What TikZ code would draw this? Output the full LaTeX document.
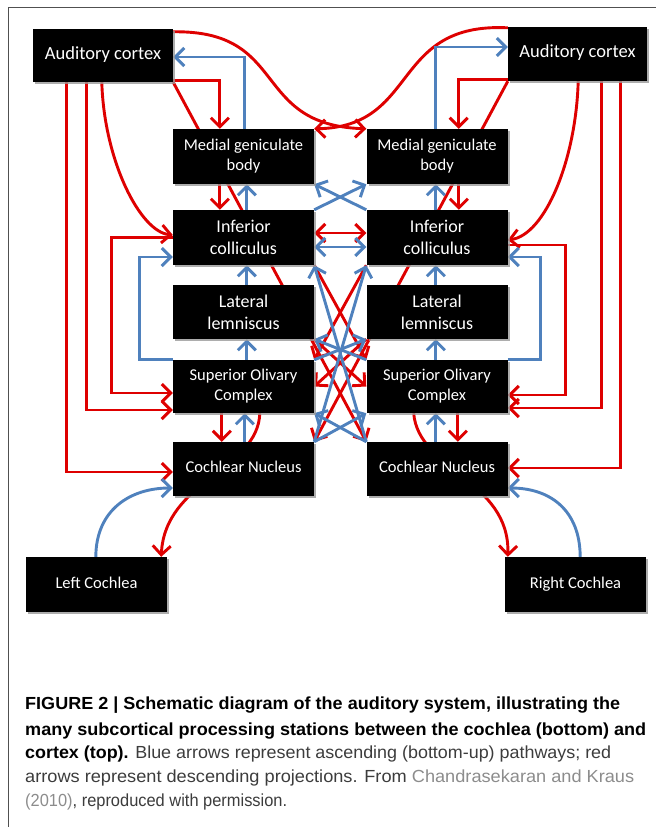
\documentclass[tikz,border=0pt]{standalone}
\usepackage{fontspec}
\setmainfont{Carlito}
\newfontfamily\capfont{Liberation Sans}
\usetikzlibrary{arrows.meta,shadows,backgrounds,calc}
\definecolor{redA}{RGB}{222,0,0}
\definecolor{blueA}{RGB}{79,129,189}
\definecolor{capgray}{RGB}{60,60,60}
\definecolor{linkgray}{RGB}{140,140,140}
\definecolor{framegray}{RGB}{80,80,80}
\begin{document}
\begin{tikzpicture}[x=1pt,y=-1pt,
  box/.style={fill=black, text=white, inner sep=0pt, align=center,
    drop shadow={shadow xshift=2pt, shadow yshift=-2pt, fill=black!40, opacity=0.8}},
  one/.style={text height=0.95em, text depth=0.25em},
  bigtxt/.style={font=\fontsize{18.5}{21}\selectfont},
  midtxt/.style={font=\fontsize{18}{22}\selectfont},
  smalltxt/.style={font=\fontsize{16.5}{20}\selectfont},
  colL/.style={minimum width=141pt},
  colR/.style={minimum width=141pt},
  rl/.style={draw=redA, line width=2.9pt},
  bl/.style={draw=blueA, line width=2.9pt},
  tip/.style={-{Straight Barb[length=9pt,width=18pt]}},
  dtip/.style={{Straight Barb[length=9pt,width=18pt]}-{Straight Barb[length=9pt,width=18pt]}},
  capline/.style={anchor=base west, inner sep=0pt, font=\capfont\fontsize{17.5}{20}\selectfont}
]
\useasboundingbox (0,0) rectangle (656,827);
\draw[framegray, line width=1pt] (8,827) -- (8,7) -- (656,7);

% ---- boxes ----
\node[box, bigtxt, one, minimum width=140pt, minimum height=53pt] (acL) at (103,55.5) {Auditory cortex};
\node[box, bigtxt, one, minimum width=139pt, minimum height=54pt] (acR) at (577.5,54) {Auditory cortex};
\node[box, smalltxt, colL, minimum height=55pt] (mgbL) at (243.5,156.5) {Medial geniculate\\body};
\node[box, smalltxt, colR, minimum height=55pt] (mgbR) at (437,156.5) {Medial geniculate\\body};
\node[box, midtxt, colL, minimum height=55pt] (icL) at (243.5,237.5) {Inferior\\colliculus};
\node[box, midtxt, colR, minimum height=55pt] (icR) at (437,237.5) {Inferior\\colliculus};
\node[box, midtxt, colL, minimum height=54pt] (llL) at (243.5,312) {Lateral\\lemniscus};
\node[box, midtxt, colR, minimum height=54pt] (llR) at (437,312) {Lateral\\lemniscus};
\node[box, smalltxt, colL, minimum height=53pt] (socL) at (243.5,386.5) {Superior Olivary\\Complex};
\node[box, smalltxt, colR, minimum height=53pt] (socR) at (437,386.5) {Superior Olivary\\Complex};
\node[box, smalltxt, one, colL, minimum height=54pt] (cnL) at (243.5,469) {Cochlear Nucleus};
\node[box, smalltxt, one, colR, minimum height=54pt] (cnR) at (437,469) {Cochlear Nucleus};
\node[box, smalltxt, one, minimum width=141pt, minimum height=55pt] (cochL) at (96.5,584.5) {Left Cochlea};
\node[box, smalltxt, one, minimum width=141pt, minimum height=55pt] (cochR) at (575.5,584.5) {Right Cochlea};

% ---- connectors (behind boxes) ----
\begin{pgfonlayer}{background}
% cortex to contralateral MGB
\draw[rl,tip] ([yshift=-3pt]acL.north east) .. controls (290,30) and (250,125) .. (mgbR.north west);
\draw[rl,tip] ([yshift=-1pt]acR.north west) .. controls (390,22) and (420,127) .. (mgbL.north east);
% cortex <-> MGB
\draw[rl,tip] ([yshift=2pt]acL.south east) -| ([xshift=47pt]mgbL.north west);
\draw[rl,tip] ([yshift=2pt]acR.south west) -| ([xshift=-49pt]mgbR.north east);
\draw[bl,tip] ([xshift=72pt]mgbL.north west) |- ([yshift=-1.5pt]acL.east);
\draw[bl,tip] ([xshift=69.5pt]mgbR.north west) |- ([yshift=7pt]acR.west);
% cortex to contralateral cochlear nucleus (long diagonals)
\draw[rl,tip] (acL.south east) -- (cnR.north west);
\draw[rl,tip] (acR.south west) -- (cnL.north east);
% cortex descending, outer lines
\draw[rl,tip] ([xshift=34pt]acL.south west) |- ([yshift=-3pt]cnL.west);
\draw[rl,tip] ([xshift=54pt]acL.south west) |- ([yshift=-23.5pt]socL.west);
\draw[rl,tip] ([xshift=69pt]acL.south west) .. controls (104,160) and (140,232) .. ([yshift=2.5pt]icL.west);
\draw[rl,tip] ([xshift=-27pt]acR.south east) |- ([yshift=1pt]cnR.east);
\draw[rl,tip] ([xshift=-46pt]acR.south east) |- ([yshift=-21.5pt]socR.east);
\draw[rl,tip] ([xshift=-69pt]acR.south east) .. controls (576,160) and (545,235) .. ([yshift=-2.5pt]icR.east);
% IC -> SOC elbows
\draw[rl,tip] (icL.west) -- ++(-61,0) |- ([yshift=-6.5pt]socL.west);
\draw[rl,tip] ([yshift=-7.5pt]icR.east) -- ++(58,0) |- ([yshift=-8.5pt]socR.east);
% SOC -> IC elbows
\draw[bl,tip] (socL.north west) -- ++(-33,0) |- ([yshift=-19.5pt]icL.west);
\draw[bl,tip] (socR.north east) -- ++(33,0) |- ([yshift=-19.5pt]icR.east);
% vertical links left
\draw[rl,tip] ([xshift=47pt]mgbL.south west) -- ([xshift=47pt]icL.north west);
\draw[bl,tip] ([xshift=74pt]icL.north west) -- ([xshift=74pt]mgbL.south west);
\draw[bl,tip] ([xshift=74pt]llL.north west) -- ([xshift=74pt]icL.south west);
\draw[bl,tip] ([xshift=74pt]socL.north west) -- ([xshift=74pt]llL.south west);
\draw[rl,tip] ([xshift=49pt]socL.south west) -- ([xshift=49pt]cnL.north west);
\draw[bl,tip] ([xshift=72pt]cnL.north west) -- ([xshift=72pt]socL.south west);
% vertical links right
\draw[rl,tip] ([xshift=92.5pt]mgbR.south west) -- ([xshift=92.5pt]icR.north west);
\draw[bl,tip] ([xshift=69.5pt]icR.north west) -- ([xshift=69.5pt]mgbR.south west);
\draw[bl,tip] ([xshift=69.5pt]llR.north west) -- ([xshift=69.5pt]icR.south west);
\draw[bl,tip] ([xshift=69.5pt]socR.north west) -- ([xshift=69.5pt]llR.south west);
\draw[rl,tip] ([xshift=91.5pt]socR.south west) -- ([xshift=91.5pt]cnR.north west);
\draw[bl,tip] ([xshift=69.5pt]cnR.north west) -- ([xshift=69.5pt]socR.south west);
% SOC -> cochlea (behind CN)
\draw[rl,tip] ([xshift=87pt]socL.south west) .. controls (258,470) and (165,480) .. ([xshift=-6pt]cochL.north east);
\draw[rl,tip] ([xshift=-94pt]socR.south east) .. controls (418,470) and (510,480) .. ([xshift=3pt]cochR.north west);
% cochlea -> CN
\draw[bl,tip] ([xshift=70pt]cochL.north west) .. controls (96,510) and (130,488) .. ([yshift=-19pt]cnL.west);
\draw[bl,tip] ([xshift=-66pt]cochR.north east) .. controls (580,510) and (550,488) .. ([yshift=-19pt]cnR.east);
% crossings in the middle
\draw[bl,tip] (icL.north east) -- (mgbR.south west);
\draw[bl,tip] (icR.north west) -- (mgbL.south east);
\draw[rl,dtip] ([yshift=4.5pt]icL.east) -- ([yshift=4.5pt]icR.west);
\draw[bl,dtip] ([yshift=-9.5pt]icL.east) -- ([yshift=-9.5pt]icR.west);
\draw[rl,tip] (icL.south east) -- (socR.north west);
\draw[rl,tip] (icR.south west) -- (socL.north east);
\draw[rl,tip] (llL.south east) -- (socR.west);
\draw[rl,tip] (llR.south west) -- (socL.east);
\draw[bl,tip] (cnL.north east) -- (icR.south west);
\draw[bl,tip] (cnR.north west) -- (icL.south east);
\draw[bl,tip] (cnL.north east) -- (socR.south west);
\draw[bl,tip] (cnR.north west) -- (socL.south east);
\draw[bl,tip] (socL.north east) -- (llR.south west);
\draw[bl,tip] (socR.north west) -- (llL.south east);
\end{pgfonlayer}

% ---- caption ----
\node[capline] (cap1) at (25,709) {\resizebox{595pt}{\height}{\bfseries FIGURE 2 | Schematic diagram of the auditory system, illustrating the}};
\node[capline] (cap2) at (25,735) {\resizebox{621pt}{\height}{\bfseries many subcortical processing stations between the cochlea (bottom) and}};
\node[capline] (cap3) at (25,758) {\resizebox{586pt}{\height}{\textbf{cortex (top).} \textcolor{capgray}{Blue arrows represent ascending (bottom-up) pathways; red}}};
\node[capline] (cap4) at (25,782) {\resizebox{609pt}{\height}{\textcolor{capgray}{arrows represent descending projections. From }\textcolor{linkgray}{Chandrasekaran and Kraus}}};
\node[capline] (cap5) at (25,806) {\resizebox{262pt}{\height}{\textcolor{linkgray}{(2010)}\textcolor{capgray}{, reproduced with permission.}}};
\end{tikzpicture}
\end{document}
